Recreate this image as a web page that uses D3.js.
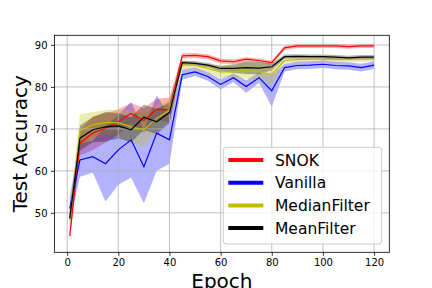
<!DOCTYPE html>
<html>
<head>
<meta charset="utf-8">
<script src="https://cdn.jsdelivr.net/npm/d3@7"></script>
<style>
  body { margin: 0; background: #fff; }
  svg { display: block; font-family: "DejaVu Sans", sans-serif; }
</style>
</head>
<body>
<svg width="432" height="288"></svg>
<script>
var epochs = [1, 5, 10, 15, 20, 25, 30, 35, 40, 45, 50, 55, 60, 65, 70, 75, 80, 85, 90, 95, 100, 105, 110, 115, 120];

var snokMean = [44.5, 66.6, 69.0, 70.2, 71.7, 73.7, 72.0, 74.7, 74.5, 87.4, 87.5, 87.2, 86.2, 86.0, 86.6, 86.3, 85.8, 89.3, 89.8, 89.8, 89.8, 89.8, 89.6, 89.8, 89.8];
var snokStd = [1.3, 3, 4, 3.5, 3, 2.5, 3, 2.5, 3, 0.6, 0.6, 0.6, 0.6, 0.6, 0.5, 0.5, 0.5, 0.5, 0.5, 0.5, 0.5, 0.5, 0.5, 0.5, 0.5];

var vanillaMean = [51, 62.6, 63.4, 61.7, 65.0, 67.4, 61.0, 69.0, 67.4, 82.9, 83.6, 82.5, 80.6, 82.2, 80.1, 82.2, 79.1, 84.6, 85.1, 85.2, 85.4, 85.1, 85.0, 84.6, 85.2];
var vanillaStd = [3, 4, 3.8, 9, 8.3, 9, 8.7, 9, 5.7, 1.2, 1, 1, 1.2, 1, 1.5, 1.2, 3.8, 0.9, 0.9, 0.9, 0.9, 0.9, 0.9, 0.9, 0.9];

var medianMean = [48.5, 69.5, 71.0, 71.5, 71.5, 70.5, 69.8, 72.5, 74.5, 85.2, 85.2, 84.4, 83.6, 83.6, 84.0, 83.6, 83.0, 86.3, 86.5, 86.6, 86.6, 86.5, 86.5, 86.6, 86.6];
var medianStd = [2, 4, 3, 3, 3, 4, 4, 3, 2.5, 1, 0.8, 1, 1.5, 1.5, 2, 2, 2.5, 0.6, 0.6, 0.6, 0.6, 0.6, 0.6, 0.6, 0.6];

var meanMean = [48.7, 67.8, 69.8, 70.5, 70.7, 69.8, 72.8, 71.7, 73.9, 85.8, 85.6, 85.2, 84.4, 84.4, 84.6, 84.5, 84.8, 87.2, 87.3, 87.2, 87.2, 87.1, 86.9, 87.1, 87.1];
var meanStd = [1.5, 3, 3, 3.5, 3, 3, 3, 3, 2.5, 0.5, 0.5, 0.5, 0.6, 1, 1.5, 1.5, 0.8, 0.5, 0.5, 0.5, 0.5, 0.5, 0.5, 0.5, 0.5];

var seriesNames = ['SNOK', 'Vanilla', 'MedianFilter', 'MeanFilter'];
var seriesColors = ['#ff0000', '#0000ff', '#bfbf00', '#000000'];
var xTicks = [0, 20, 40, 60, 80, 100, 120];
var yTicks = [50, 60, 70, 80, 90];

var series = [
  { name: seriesNames[0], color: seriesColors[0], mean: snokMean, std: snokStd },
  { name: seriesNames[1], color: seriesColors[1], mean: vanillaMean, std: vanillaStd },
  { name: seriesNames[2], color: seriesColors[2], mean: medianMean, std: medianStd },
  { name: seriesNames[3], color: seriesColors[3], mean: meanMean, std: meanStd }
];

var axLeft = 54.5, axRight = 389.3, axTop = 35.3, axBottom = 252.3;
var svg = d3.select('svg');

var x = d3.scaleLinear().domain([-4.95, 125.95]).range([axLeft, axRight]);
var y = d3.scaleLinear().domain([40.6, 92.3]).range([axBottom, axTop]);

function pts(s) {
  return epochs.map(function (e, i) { return { e: e, m: s.mean[i], s: s.std[i] }; });
}

var area = d3.area()
  .x(function (d) { return x(d.e); })
  .y0(function (d) { return y(d.m - d.s); })
  .y1(function (d) { return y(d.m + d.s); });

var line = d3.line()
  .x(function (d) { return x(d.e); })
  .y(function (d) { return y(d.m); });

var plot = svg.append('g');

// bands first
series.forEach(function (s) {
  plot.append('path')
    .attr('d', area(pts(s)))
    .attr('fill', s.color)
    .attr('fill-opacity', 0.3)
    .attr('stroke', 'none');
});

// grid
var grid = svg.append('g').attr('stroke', '#b0b0b0').attr('stroke-width', 0.8);
xTicks.forEach(function (t) {
  grid.append('line').attr('x1', x(t)).attr('x2', x(t)).attr('y1', axTop).attr('y2', axBottom);
});
yTicks.forEach(function (t) {
  grid.append('line').attr('x1', axLeft).attr('x2', axRight).attr('y1', y(t)).attr('y2', y(t));
});

// mean lines
series.forEach(function (s) {
  svg.append('path')
    .attr('d', line(pts(s)))
    .attr('fill', 'none')
    .attr('stroke', s.color)
    .attr('stroke-width', 1.2)
    .attr('stroke-linejoin', 'miter');
});

// axes
var xAxis = svg.append('g')
  .attr('transform', 'translate(0,' + axBottom + ')')
  .call(d3.axisBottom(x).tickValues(xTicks).tickSize(3.5).tickPadding(3.5).tickFormat(d3.format('d')));
var yAxis = svg.append('g')
  .attr('transform', 'translate(' + axLeft + ',0)')
  .call(d3.axisLeft(y).tickValues(yTicks).tickSize(3.5).tickPadding(3.5).tickFormat(d3.format('d')));
[xAxis, yAxis].forEach(function (a) {
  a.select('.domain').remove();
  a.selectAll('text').attr('font-size', 10).attr('font-family', 'DejaVu Sans').attr('fill', '#000');
  a.selectAll('line').attr('stroke', '#000').attr('stroke-width', 0.8);
});

svg.append('rect')
  .attr('x', axLeft).attr('y', axTop)
  .attr('width', axRight - axLeft).attr('height', axBottom - axTop)
  .attr('fill', 'none').attr('stroke', '#000').attr('stroke-width', 0.8);

// axis labels
svg.append('text')
  .attr('x', (axLeft + axRight) / 2).attr('y', 287.5)
  .attr('text-anchor', 'middle')
  .attr('font-size', 20)
  .text('Epoch');
svg.append('text')
  .attr('transform', 'translate(27,' + ((axTop + axBottom) / 2) + ') rotate(-90)')
  .attr('text-anchor', 'middle')
  .attr('font-size', 20)
  .text('Test Accuracy');

// legend
var lg = svg.append('g');
lg.append('rect')
  .attr('x', 223.3).attr('y', 147.3)
  .attr('width', 158.4).attr('height', 96.7)
  .attr('rx', 3).attr('ry', 3)
  .attr('fill', '#fff').attr('fill-opacity', 0.8)
  .attr('stroke', '#cccccc').attr('stroke-width', 1);
series.forEach(function (s, i) {
  var cy = 160 + i * 22.7;
  lg.append('line')
    .attr('x1', 228.3).attr('x2', 263.3)
    .attr('y1', cy).attr('y2', cy)
    .attr('stroke', s.color).attr('stroke-width', 4);
  lg.append('text')
    .attr('x', 275).attr('y', cy)
    .attr('dy', '0.36em')
    .attr('font-size', 15.5)
    .text(s.name);
});
</script>
</body>
</html>
